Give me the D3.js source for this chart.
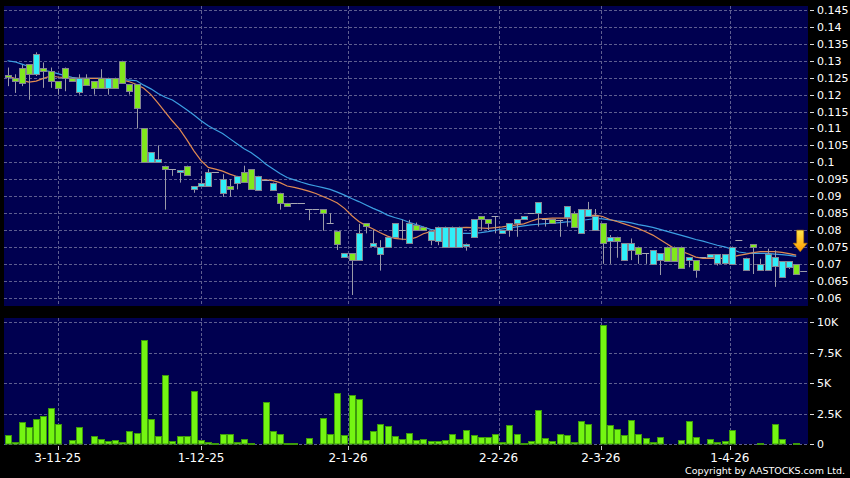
<!DOCTYPE html>
<html>
<head>
<meta charset="utf-8">
<script src="https://cdn.jsdelivr.net/npm/d3@7"></script>
<style>
  html, body { margin: 0; padding: 0; background: #000; }
  svg { display: block; }
</style>
</head>
<body>
<svg></svg>
<script>
// ---- data ----
const opens  = [.1258,.125,.128,.129,.126,.128,.127,.124,.128,.125,.121,.125,.124,.125,.122,.125,.130,.123,.123,.110,
                .100,.100,.099,.098,.097,.099,.092,.093,.093,.097,.091,.093,.094,.097,.098,.092,.0948,.092,.091,.088,
                .088,.088,.0861,.0861,.0861,.082,.0798,.0719,.0731,.0709,.082,.0751,.0731,.0751,.078,.080,.0761,.0816,.081,.0768,
                .0768,.075,.075,.075,.0753,.078,.0841,.0832,.0841,.079,.080,.082,.0832,.085,.085,.0832,.0832,.083,.0839,.085,
                .079,.0842,.080,.082,.0768,.078,.0711,.0741,.0751,.0731,.070,.0711,.0751,.0751,.0751,.0711,.0711,.072,.0719,.0701,
                .0701,.0701,.077,.0682,.0758,.0682,.0682,.0693,.0662,.0689,.0699];
const highs  = [.128,.126,.1288,.129,.1325,.1295,.128,.124,.128,.125,.126,.126,.124,.1275,.125,.125,.130,.123,.123,.110,
                .103,.105,.099,.098,.0977,.099,.093,.096,.098,.097,.0965,.095,.096,.099,.098,.096,.0948,.094,.091,.088,
                .088,.088,.0861,.0861,.0861,.085,.0798,.0731,.0731,.0818,.082,.080,.077,.078,.082,.083,.083,.0822,.081,.0796,
                .081,.081,.081,.081,.076,.0832,.0841,.0832,.0841,.080,.082,.0832,.0841,.085,.0882,.0832,.0832,.083,.0871,.0855,
                .0862,.0883,.0862,.082,.0785,.078,.0761,.0775,.0751,.0731,.0741,.0731,.0751,.0751,.0751,.0719,.0711,.072,.0729,.0729,
                .0729,.0751,.077,.0718,.0758,.0715,.0745,.074,.0708,.0708,.0699];
const lows   = [.1225,.1205,.1225,.1185,.1255,.122,.122,.120,.121,.124,.120,.123,.120,.122,.120,.122,.1235,.120,.110,.100,
                .100,.100,.086,.096,.094,.0962,.091,.093,.093,.097,.0898,.0898,.092,.094,.092,.092,.0948,.092,.086,.087,
                .088,.088,.0829,.0861,.0798,.082,.0741,.0719,.0608,.0709,.079,.0751,.068,.0751,.078,.077,.0761,.080,.080,.0755,
                .0755,.075,.075,.075,.0739,.078,.080,.080,.079,.079,.078,.078,.0832,.085,.081,.081,.082,.078,.081,.081,
                .079,.0842,.080,.070,.070,.0718,.0711,.0711,.070,.070,.070,.0667,.0711,.0711,.0689,.069,.0659,.072,.0719,.0695,
                .0701,.0701,.077,.0682,.067,.0682,.0682,.0632,.0662,.0685,.0669];
const closes = [.1252,.124,.1235,.126,.132,.127,.124,.122,.125,.124,.125,.123,.122,.122,.125,.122,.1235,.121,.116,.100,
                .103,.101,.098,.098,.0977,.0962,.093,.094,.097,.097,.095,.092,.096,.094,.092,.096,.0948,.094,.088,.087,
                .088,.088,.0861,.0861,.0849,.082,.0760,.0731,.0709,.0790,.081,.0761,.0751,.078,.082,.080,.082,.080,.080,.0796,
                .081,.081,.081,.081,.076,.0832,.0832,.082,.0841,.080,.082,.0832,.0841,.085,.0882,.0832,.082,.083,.0871,.081,
                .0862,.0862,.0842,.0761,.078,.0768,.0761,.0761,.0731,.0731,.0741,.0731,.0711,.0711,.0689,.0719,.0682,.072,.0729,.0729,
                .0729,.0751,.077,.0718,.075,.0699,.0729,.0719,.0708,.0708,.0669];
// volume in thousands
const volumes = [.74,.19,1.78,1.37,2.05,2.27,2.93,1.62,0,.30,1.37,0,.68,.44,.25,.36,.14,1.04,.93,8.58,
                 2.05,.66,5.70,.25,.66,.66,4.38,.30,.16,.08,.85,.79,.16,.44,.11,0,3.45,1.10,.85,.08,
                 .08,0,.49,0,2.16,.85,4.16,.77,4.03,3.70,.36,1.07,1.62,1.45,.63,.41,.90,.36,.41,.22,
                 .22,.36,.85,.44,1.15,.74,.58,.60,.79,.16,1.53,.79,.05,.22,2.77,.47,.25,.85,.71,.16,
                 1.92,1.67,0,9.75,1.59,1.21,.71,1.97,.79,.47,.19,.55,0,0,.33,1.92,.58,0,.44,.16,
                 .25,1.18,0,0,0,.1,0,1.64,.38,0,.1];
const maShort = [.1255,.1248,.1242,.1237,.1240,.1248,.1255,.1252,.1250,.1248,.1248,.1248,.1248,.1248,.1247,.1245,.1243,.1238,.1230,.1219,
                 .1200,.1175,.1148,.1122,.1098,.1067,.1034,.1005,.0985,.0980,.0974,.0965,.0958,.0952,.0949,.0948,.0948,.0946,.0940,.0930,
                 .0926,.0921,.0915,.0908,.0899,.0890,.0880,.0864,.0843,.0825,.0813,.0803,.0792,.0782,.0775,.0773,.0772,.0778,.0789,.0795,
                 .0800,.0802,.0805,.0807,.0808,.0807,.0806,.0805,.0807,.0809,.0812,.0815,.0818,.0826,.0833,.0834,.0835,.0835,.0835,.0835,
                 .0838,.0842,.0844,.0840,.0831,.0825,.0818,.0811,.0804,.0795,.0785,.0772,.0759,.0745,.0737,.0729,.0720,.0716,.0716,.0716,
                 .0716,.0720,.0725,.0729,.0733,.0736,.0736,.0736,.0734,.0730,.0726];
const maLong  = [.1300,.1297,.1290,.1283,.1278,.1272,.1268,.1262,.1256,.1251,.1248,.1248,.1248,.1248,.1246,.1245,.1244,.1243,.1241,.1228,
                 .1217,.1203,.1192,.1184,.1170,.1155,.1140,.1123,.1108,.1096,.1085,.1070,.1055,.1040,.1028,.1013,.0995,.0981,.0967,.0955,
                 .0948,.0941,.0935,.0930,.0925,.0920,.0912,.0903,.0893,.0884,.0874,.0864,.0855,.0844,.0837,.0831,.0823,.0816,.0809,.0802,
                 .0798,.0795,.0792,.0790,.0790,.0790,.0792,.0795,.0799,.0803,.0806,.0809,.0812,.0815,.0817,.0819,.0820,.0822,.0824,.0825,
                 .0828,.0831,.0834,.0833,.0830,.0827,.0825,.0821,.0816,.0812,.0808,.0802,.0796,.0790,.0784,.0778,.0772,.0767,.0761,.0755,
                 .0750,.0744,.0735,.0732,.0731,.0731,.0731,.0729,.0727,.0725,.0722];
const dateLabels = ["3-11-25", "1-12-25", "2-1-26", "2-2-26", "2-3-26", "1-4-26"];
const dateIdx = [7, 27, 47.5, 68.5, 82.75, 100.75];
const priceTicks = [0.06, 0.065, 0.07, 0.075, 0.08, 0.085, 0.09, 0.095, 0.1, 0.105, 0.11, 0.115, 0.12, 0.125, 0.13, 0.135, 0.14, 0.145];
const volTicks = [0, 2.5, 5, 7.5, 10];
const lastPrice = 0.068;

const width = 850, height = 478;
const svg = d3.select("svg").attr("width", width).attr("height", height);
svg.append("rect").attr("width", width).attr("height", height).attr("fill", "#000");

const n = closes.length;
const left = 4, right = 808;
const x = d3.scaleLinear().domain([0, n - 1]).range([7.5, 796.2]);
const y = d3.scaleLinear().domain([0.06, 0.145]).range([297.7, 10]);
const yv = d3.scaleLinear().domain([0, 10]).range([444, 322.3]);

const navy = "#000050";
const gridColor = "#5e5e90";
const px = v => Math.round(v) + 0.5;

// -------------------- PANELS --------------------
svg.append("rect").attr("x", left).attr("y", 6).attr("width", right - left).attr("height", 300).attr("fill", navy);
svg.append("rect").attr("x", left).attr("y", 318).attr("width", right - left).attr("height", 126).attr("fill", navy);

// grid lines
const grid = svg.append("g").attr("stroke", gridColor).attr("stroke-width", 1).attr("stroke-dasharray", "3,2");
priceTicks.forEach(t => {
    grid.append("line").attr("x1", left).attr("x2", right).attr("y1", px(y(t))).attr("y2", px(y(t)));
});
volTicks.forEach(t => {
    grid.append("line").attr("x1", left).attr("x2", right).attr("y1", px(yv(t))).attr("y2", px(yv(t)));
});
dateIdx.forEach(d => {
    grid.append("line").attr("x1", px(x(d))).attr("x2", px(x(d))).attr("y1", 6).attr("y2", 306);
    grid.append("line").attr("x1", px(x(d))).attr("x2", px(x(d))).attr("y1", 318).attr("y2", 444);
});

// -------------------- MOVING AVERAGES --------------------
const line = d3.line().x((d, i) => x(i)).y(d => y(d));
svg.append("path").datum(maLong).attr("d", line)
    .attr("fill", "none").attr("stroke", "#3c9fe2").attr("stroke-width", 1.2);
svg.append("path").datum(maShort).attr("d", line)
    .attr("fill", "none").attr("stroke", "#e08a52").attr("stroke-width", 1.2);

// -------------------- CANDLES --------------------
const candles = d3.range(n).map(i => ({ i, o: opens[i], h: highs[i], l: lows[i], c: closes[i] }));
const cg = svg.append("g");

cg.selectAll("line.wick")
    .data(candles.filter(d => d.h > d.l))
    .enter().append("line")
    .attr("class", "wick")
    .attr("x1", d => px(x(d.i))).attr("x2", d => px(x(d.i)))
    .attr("y1", d => y(d.h)).attr("y2", d => y(d.l))
    .attr("stroke", "#9a9aa8").attr("stroke-width", 1);

cg.selectAll("line.doji")
    .data(candles.filter(d => d.o === d.c))
    .enter().append("line")
    .attr("class", "doji")
    .attr("x1", d => x(d.i) - 3.5).attr("x2", d => x(d.i) + 3.5)
    .attr("y1", d => px(y(d.o))).attr("y2", d => px(y(d.o)))
    .attr("stroke", "#a8a8b4").attr("stroke-width", 1);

cg.selectAll("rect.body")
    .data(candles.filter(d => d.o !== d.c))
    .enter().append("rect")
    .attr("class", "body")
    .attr("x", d => Math.round(x(d.i) - 3) + 0.5)
    .attr("y", d => Math.round(y(Math.max(d.o, d.c))) + 0.5)
    .attr("width", 6)
    .attr("height", d => Math.max(2, Math.round(Math.abs(y(d.o) - y(d.c)))))
    .attr("fill", d => d.c > d.o ? "#30eef8" : "#80e81c")
    .attr("stroke", "#858592").attr("stroke-width", 1);

// last price marker
svg.append("line")
    .attr("x1", x(n - 1) + 4).attr("x2", 807)
    .attr("y1", px(y(lastPrice))).attr("y2", px(y(lastPrice)))
    .attr("stroke", "#9a9aa8");

// arrow above last bar
const defs = svg.append("defs");
const grad = defs.append("linearGradient").attr("id", "arrowGrad")
    .attr("x1", 0).attr("y1", 0).attr("x2", 0).attr("y2", 1);
grad.append("stop").attr("offset", "0%").attr("stop-color", "#ffe84a");
grad.append("stop").attr("offset", "100%").attr("stop-color", "#ff9a00");
const ax = x(n - 1) + 4, ay = y(highs[n - 1]) - 12.5;
svg.append("path")
    .attr("d", `M${ax - 3.5},${ay - 21.5} L${ax + 3.5},${ay - 21.5} L${ax + 3.5},${ay - 8.5} L${ax + 7},${ay - 8.5} L${ax},${ay} L${ax - 7},${ay - 8.5} L${ax - 3.5},${ay - 8.5} Z`)
    .attr("fill", "url(#arrowGrad)").attr("stroke", "#c07a00").attr("stroke-width", 0.6);

// -------------------- VOLUME --------------------
svg.append("g").selectAll("rect")
    .data(volumes.map((v, i) => ({ i, v })).filter(d => d.v > 0))
    .enter().append("rect")
    .attr("x", d => Math.round(x(d.i) - 3) + 0.5)
    .attr("y", d => Math.round(yv(d.v)) + 0.5)
    .attr("width", 6)
    .attr("height", d => Math.max(1, 444 - Math.round(yv(d.v)) - 0.5))
    .attr("fill", "#74f512").attr("stroke", "#3d9a0c").attr("stroke-width", 1);

// -------------------- AXES --------------------
const axisText = g => g.attr("fill", "#fff").attr("font-family", "DejaVu Sans, Verdana, sans-serif");
const yAxis = svg.append("g").call(axisText).attr("font-size", "11px");
priceTicks.forEach(t => {
    yAxis.append("line").attr("x1", 810).attr("x2", 814).attr("y1", px(y(t))).attr("y2", px(y(t))).attr("stroke", "#ddd");
    yAxis.append("text").attr("x", 817).attr("y", y(t) + 4).text(String(+t.toFixed(3)));
});
volTicks.forEach(t => {
    yAxis.append("line").attr("x1", 810).attr("x2", 814).attr("y1", px(yv(t))).attr("y2", px(yv(t))).attr("stroke", "#ddd");
    yAxis.append("text").attr("x", 817).attr("y", yv(t) + 4).text(t === 0 ? "0" : t + "K");
});

const xAxis = svg.append("g").call(axisText).attr("font-size", "12px");
dateIdx.forEach((d, k) => {
    xAxis.append("line").attr("x1", px(x(d))).attr("x2", px(x(d))).attr("y1", 446).attr("y2", 450).attr("stroke", "#ccc");
    xAxis.append("text").attr("x", x(d)).attr("y", 462).attr("text-anchor", "middle").text(dateLabels[k]);
});

svg.append("text")
    .attr("x", 845).attr("y", 474)
    .attr("text-anchor", "end")
    .attr("fill", "#fff")
    .attr("font-family", "DejaVu Sans, Verdana, sans-serif")
    .attr("font-size", "9.5px")
    .text("Copyright by AASTOCKS.com Ltd.");
</script>
</body>
</html>
